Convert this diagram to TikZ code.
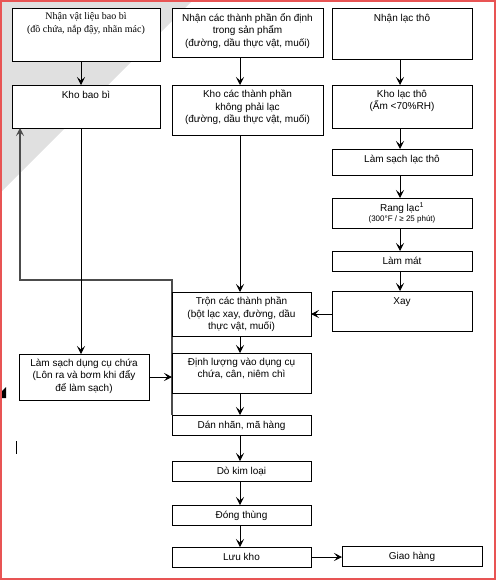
\documentclass[tikz,border=0pt]{standalone}
\usepackage{fontspec}
\setmainfont{Liberation Sans}
\newfontfamily\vnserif{Liberation Serif}
\usetikzlibrary{positioning,calc}
\usetikzlibrary{arrows.meta}
\definecolor{FrameRed}{RGB}{232,84,84}
\definecolor{CornerGray}{RGB}{224,224,224}
\tikzset{
  blk/.style={draw=black,line width=0.8pt,fill=white,inner sep=0pt,outer sep=0pt,anchor=north west},
  txt/.style={font=\fontsize{10}{12.5}\selectfont,align=center,inner sep=0pt,anchor=north,
    execute at begin node=\strut},
  flow/.style={draw=black,line width=0.8pt,-{Stealth[length=8pt,width=8pt,inset=3.5pt]}},
  back/.style={draw=black!70,line width=1.1pt,-{Stealth[length=8pt,width=8pt,inset=3.5pt]}},
}

\begin{document}
\begin{tikzpicture}[x=1pt,y=-1pt]
\useasboundingbox (0,0) rectangle (497,581);
\fill[CornerGray] (0,0) -- (193,0) -- (0,193) -- cycle;
\coordinate (colA) at (81,0);
\coordinate (colB) at (240,0);
\coordinate (colC) at (400,0);
\coordinate (turn) at (20,280);
% boxes
\node[blk,minimum width=148pt,minimum height=53pt] (b1) at (12,8) {};
\node[blk,minimum width=151pt,minimum height=49pt] (b2) at (172,8) {};
\node[blk,minimum width=140pt,minimum height=51pt] (b3) at (332,8) {};
\node[blk,minimum width=148pt,minimum height=43pt] (b4) at (12,85) {};
\node[blk,minimum width=151pt,minimum height=50pt] (b5) at (172,85) {};
\node[blk,minimum width=140pt,minimum height=43pt] (b6) at (332,85) {};
\node[blk,minimum width=140pt,minimum height=26pt] (b7) at (332,149) {};
\node[blk,minimum width=140pt,minimum height=30pt] (b8) at (332,198) {};
\node[blk,minimum width=140pt,minimum height=20pt] (b9) at (332,251) {};
\node[blk,minimum width=140pt,minimum height=40pt] (b10) at (332,291) {};
% return line to packaging store
\draw[back] (172,415) |- (turn) -- (b4.south -| turn);
\node[blk,minimum width=139pt,minimum height=44pt] (b11) at (172,292) {};
\node[blk,minimum width=139pt,minimum height=40pt] (b12) at (172,353) {};
\node[blk,minimum width=130pt,minimum height=46pt] (b13) at (19,354) {};
\node[blk,minimum width=139pt,minimum height=20pt] (b14) at (172,415) {};
\node[blk,minimum width=139pt,minimum height=20pt] (b15) at (172,461) {};
\node[blk,minimum width=139pt,minimum height=20pt] (b16) at (172,505) {};
\node[blk,minimum width=139pt,minimum height=20pt] (b17) at (172,547) {};
\node[blk,minimum width=140pt,minimum height=20pt] (b18) at (342,546) {};
% texts
\node[txt,font=\vnserif\fontsize{10}{12.5}\selectfont] (t1) at ([yshift=-4.75pt]b1.north) {Nhận vật liệu bao bì\\(đồ chứa, nắp đậy, nhãn mác)};
\node[txt] (t2) at ([yshift=-4.75pt]b2.north) {Nhận các thành phần ổn định\\trong sản phẩm\\(đường, dầu thực vật, muối)};
\node[txt] (t3) at ([yshift=-4.75pt]b3.north) {Nhận lạc thô};
\node[txt] (t4) at ([yshift=-4.75pt]b4.north) {Kho bao bì};
\node[txt] (t5) at ([yshift=-4.75pt]b5.north) {Kho các thành phần\\không phải lạc\\(đường, dầu thực vật, muối)};
\node[txt] (t6) at ([yshift=-4.75pt]b6.north) {Kho lạc thô\\(Ẩm <70\%RH)};
\node[txt] (t7) at ([yshift=-4.75pt]b7.north) {Làm sạch lạc thô};
\node[txt] (t8) at ([yshift=-4.75pt]b8.north) {Rang lạc\textsuperscript{1}\\[-2pt]{\fontsize{8}{9}\selectfont(300°F / ≥ 25 phút)}};
\node[txt] (t9) at ([yshift=-4.75pt]b9.north) {Làm mát};
\node[txt] (t10) at ([yshift=-4.75pt]b10.north) {Xay};
\node[txt] (t11) at ([yshift=-4.75pt]b11.north) {Trộn các thành phần\\(bột lạc xay, đường, dầu\\thực vật, muối)};
\node[txt] (t12) at ([yshift=-4.75pt]b12.north) {Định lượng vào dụng cụ\\chứa, cân, niêm chì};
\node[txt] (t13) at ([yshift=-4.75pt]b13.north) {Làm sạch dụng cụ chứa\\(Lôn ra và bơm khi đẩy\\để làm sạch)};
\node[txt] (t14) at ([yshift=-4.75pt]b14.north) {Dán nhãn, mã hàng};
\node[txt] (t15) at ([yshift=-4.75pt]b15.north) {Dò kim loại};
\node[txt] (t16) at ([yshift=-4.75pt]b16.north) {Đóng thùng};
\node[txt] (t17) at ([yshift=-4.75pt]b17.north) {Lưu kho};
\node[txt] (t18) at ([yshift=-4.75pt]b18.north) {Giao hàng};
% arrows
\draw[flow] (b1.south -| colA) -- (b4.north -| colA);
\draw[flow] (b4.south -| colA) -- (b13.north -| colA);
\draw[flow] (b2.south -| colB) -- (b5.north -| colB);
\draw[flow] (b5.south -| colB) -- (b11.north -| colB);
\draw[flow] (b3.south -| colC) -- (b6.north -| colC);
\draw[flow] (b6.south -| colC) -- (b7.north -| colC);
\draw[flow] (b7.south -| colC) -- (b8.north -| colC);
\draw[flow] (b8.south -| colC) -- (b9.north -| colC);
\draw[flow] (b9.south -| colC) -- (b10.north -| colC);
\draw[flow] (b10.west |- b11.east) -- (b11.east);
\draw[flow] (b11.south -| colB) -- (b12.north -| colB);
\draw[flow] (b13.east) -- (b12.west |- b13.east);
\draw[flow] (b12.south -| colB) -- (b14.north -| colB);
\draw[flow] (b14.south -| colB) -- (b15.north -| colB);
\draw[flow] (b15.south -| colB) -- (b16.north -| colB);
\draw[flow] (b16.south -| colB) -- (b17.north -| colB);
\draw[flow] (b17.east) -- (b18.west |- b17.east);
% stray marks
\fill (2,398) -- (2,391) -- (6,387) -- (6,398) -- cycle;
\draw[line width=1pt] (16,441) -- (16,454);
\draw[FrameRed,line width=1.3pt] (1,1) rectangle (495,579);
\end{tikzpicture}
\end{document}
